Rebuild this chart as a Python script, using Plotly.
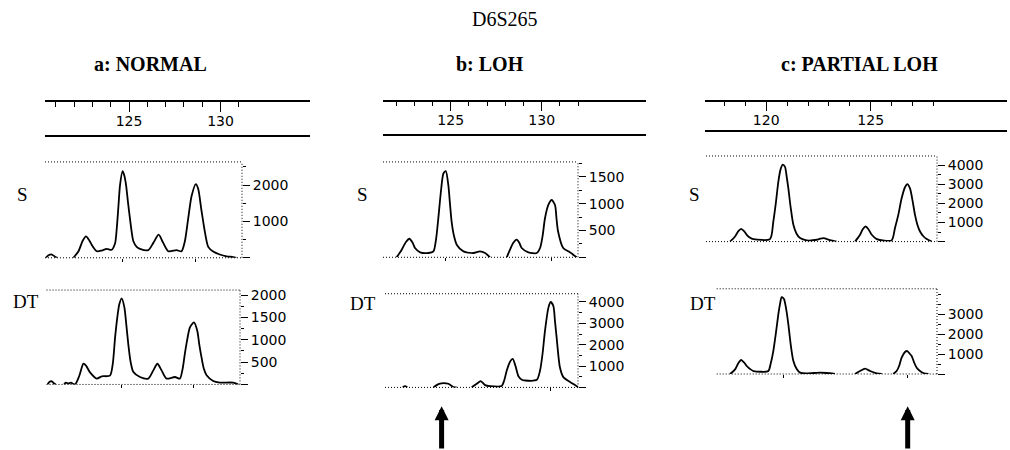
import plotly.graph_objects as go

# ---------------- DATA ----------------
TITLE = "D6S265"
PANEL_TITLES = ["a: NORMAL", "b: LOH", "c: PARTIAL LOH"]
ROW_LABELS = ["S", "DT"]

# size-ruler ticks (bp)
a_ruler_major = [125, 130]
a_ruler_minor = [121, 122, 123, 124, 126, 127, 128, 129, 131]
b_ruler_major = [125, 130]
b_ruler_minor = [122, 123, 124, 126, 127, 128, 129, 131, 132]
c_ruler_major = [120, 125]
c_ruler_minor = [118, 119, 121, 122, 123, 124, 126, 127, 128]

# panel a, S trace (bp, fluorescence)
a_s_bp = [120.45, 120.60, 120.78, 120.96, 121.09, None,
          121.96, 122.24, 122.47, 122.65, 122.84, 122.96, 123.24, 123.51, 123.78, 124.05,
          124.24, 124.33, 124.42, 124.51, 124.65, 124.75, 124.84, 124.95, 125.05, 125.15,
          125.24, 125.42, 125.60, 126.05, 126.33, 126.62, 126.87, 127.15, 127.60, 127.87,
          128.05, 128.24, 128.42, 128.65, 128.78, 128.96, 129.15, 129.33, 129.60, 129.96,
          130.33, 130.69, 130.87]
a_s_val = [0, 70, 90, 30, 0, None,
           0, 180, 470, 590, 470, 360, 180, 200, 245, 220,
           400, 800, 1400, 2000, 2380, 2250, 2000, 1500, 1090, 700,
           455, 300, 245, 210, 410, 637, 410, 180, 210, 180,
           450, 1100, 1700, 2027, 1900, 1300, 700, 300, 170, 90,
           40, 20, 0]

# panel a, DT trace
a_dt_bp = [120.55, 120.66, 120.78, 120.91, 121.00, None,
           121.45, 121.55, 121.69, 121.82, 122.05, 122.29, 122.51, 122.65, 122.87, 123.24,
           123.51, 123.96, 124.11, 124.24, 124.36, 124.47, 124.60, 124.75, 124.85, 124.96,
           125.09, 125.24, 125.60, 126.05, 126.33, 126.55, 126.78, 127.05, 127.51, 127.78,
           127.93, 128.05, 128.18, 128.33, 128.55, 128.73, 128.84, 128.96, 129.09, 129.24,
           129.60, 129.96, 130.69, 130.96]
a_dt_val = [0, 60, 70, 20, 0, None,
            0, 40, 20, 40, 0, 200, 464, 420, 270, 131,
            182, 197, 450, 1055, 1500, 1797, 1930, 1722, 1350, 908,
            500, 277, 167, 131, 315, 464, 315, 131, 167, 131,
            350, 686, 1000, 1278, 1389, 1204, 900, 611, 350, 204,
            78, 43, 40, 0]

# panel b, S trace
b_s_bp = [122.03, 122.31, 122.55, 122.73, 122.91, 123.04, 123.32, 123.77, 124.05, 124.20,
          124.32, 124.47, 124.60, 124.73, 124.87, 124.96, 125.05, 125.18, 125.33, 125.70,
          126.25, 126.61, 126.89, 127.16, None,
          128.08, 128.26, 128.44, 128.63, 128.77, 128.90, 129.27, 129.73, 129.91, 130.05,
          130.18, 130.37, 130.55, 130.73, 130.82, 130.90, 131.18, 131.55, 131.92]
b_s_val = [0, 142, 290, 346, 270, 173, 93, 80, 111, 350,
           728, 1250, 1562, 1605, 1346, 1000, 667, 400, 235, 111,
           80, 111, 80, 0, None,
           0, 142, 270, 328, 270, 173, 93, 80, 173, 400,
           728, 980, 1068, 975, 700, 481, 173, 93, 0]

# panel b, DT trace
b_dt_bp = [122.36, 122.49, 122.62, None,
           124.05, 124.23, 124.41, 124.60, 124.87, 125.15, 125.33, None,
           126.15, 126.43, 126.65, 126.89, 127.16, 127.80, 127.93, 128.08, 128.26, 128.41,
           128.56, 128.73, 128.91, 129.09, 129.73, 129.91, 130.05, 130.18, 130.37, 130.49,
           130.64, 130.73, 130.82, 131.00, 131.19, 131.56, 131.83, 132.01]
b_dt_val = [0, 60, 0, None,
            0, 108, 180, 202, 171, 20, 0, None,
            0, 171, 295, 108, 62, 70, 300, 790, 1200, 1333,
            1000, 510, 360, 325, 357, 790, 1600, 2650, 3736, 4000,
            3813, 3100, 2340, 946, 481, 248, 108, 0]

# panel c, S trace
c_s_bp = [118.27, 118.51, 118.67, 118.80, 118.94, 119.07, 119.23, 119.39, 120.18, 120.34,
          120.47, 120.58, 120.69, 120.79, 120.90, 120.98, 121.06, 121.17, 121.30, 121.46,
          121.62, 121.94, 122.42, 122.58, 122.74, 123.05, 123.37, None,
          124.25, 124.49, 124.62, 124.76, 124.89, 125.05, 125.29, 126.00, 126.16, 126.32,
          126.48, 126.64, 126.75, 126.88, 127.01, 127.12, 127.23, 127.36, 127.52, 127.68,
          127.92]
c_s_val = [0, 271, 550, 671, 550, 358, 200, 132, 132, 1052,
           2100, 3136, 3800, 4037, 3918, 3400, 2789, 1800, 880, 400,
           184, 63, 97, 150, 184, 80, 0, None,
           0, 358, 650, 792, 650, 358, 132, 63, 705, 1400,
           2268, 2850, 3016, 2789, 2100, 1400, 900, 530, 280, 132,
           0]

# panel c, DT trace
c_dt_bp = [118.27, 118.51, 118.67, 118.80, 118.94, 119.07, 119.23, 119.39, 120.10, 120.21,
           120.34, 120.47, 120.58, 120.66, 120.74, 120.82, 120.86, 120.98, 121.06, 121.17,
           121.30, 121.46, 121.62, 121.94, 122.58, 122.89, 123.29, None,
           124.25, 124.49, 124.73, 124.97, 125.29, 125.53, None,
           126.08, 126.24, 126.36, 126.48, 126.64, 126.75, 126.88, 126.96, 127.07, 127.20,
           127.36, 127.52, 127.76]
c_dt_val = [0, 233, 550, 700, 580, 400, 250, 150, 150, 500,
            1150, 2100, 2983, 3500, 3850, 3800, 3733, 3100, 2483, 1500,
            650, 250, 67, 30, 67, 50, 0, None,
            0, 150, 267, 150, 30, 0, None,
            0, 150, 400, 817, 1100, 1150, 1000, 900, 600, 317,
            150, 50, 0]

# y-axis ticks
a_s_ticks = [0, 1000, 2000]
a_dt_ticks = [0, 500, 1000, 1500, 2000]
b_s_ticks = [0, 500, 1000, 1500]
b_dt_ticks = [0, 1000, 2000, 3000, 4000]
c_s_ticks = [0, 1000, 2000, 3000, 4000]
c_dt_ticks = [0, 1000, 2000, 3000]

# called allele markers (bp)
a_s_alleles = [124.65, 128.65]
a_dt_alleles = [124.60, 128.55]
b_s_alleles = [124.73, 130.55]
b_dt_alleles = [130.49]
c_s_alleles = []
c_dt_alleles = [120.82, 126.75]

# lost allele arrows (bp)
b_arrow_bp = 124.5
c_arrow_bp = 126.77

# ---------------- LAYOUT ----------------
W, H = 1010, 450
SERIF = "Liberation Serif, Times New Roman, serif"
SANS = "DejaVu Sans, Arial, sans-serif"
DOT = "1px,2px"


def px_x(px):
    return px / W


def px_y(py):
    return 1 - py / H


panels = [
    dict(title=PANEL_TITLES[0], title_xy=(150, 61), cal=(129.0, 18.3),
         ruler=(45, 310, 99.5, 132.5), ruler_major=a_ruler_major, ruler_minor=a_ruler_minor,
         rows=[
             dict(label_xy=(22.5, 193), box=(45, 242, 160, 256.5), top=2635,
                  bp=a_s_bp, val=a_s_val, ticks=a_s_ticks, minor=500, alleles=a_s_alleles),
             dict(label_xy=(26, 301), box=(46.5, 240, 289, 384), top=2115,
                  bp=a_dt_bp, val=a_dt_val, ticks=a_dt_ticks, minor=250, alleles=a_dt_alleles),
         ], arrow=None),
    dict(title=PANEL_TITLES[1], title_xy=(490, 61), cal=(450.7, 18.2),
         ruler=(383, 646, 99.3, 131.7), ruler_major=b_ruler_major, ruler_minor=b_ruler_minor,
         rows=[
             dict(label_xy=(362, 193), box=(383, 578, 160, 256), top=1778,
                  bp=b_s_bp, val=b_s_val, ticks=b_s_ticks, minor=250, alleles=b_s_alleles),
             dict(label_xy=(362.5, 302.5), box=(385, 578, 292.7, 387), top=4386,
                  bp=b_dt_bp, val=b_dt_val, ticks=b_dt_ticks, minor=500, alleles=b_dt_alleles),
         ], arrow=b_arrow_bp),
    dict(title=PANEL_TITLES[2], title_xy=(859, 61), cal=(870.7, 20.9),
         ruler=(705, 1006.7, 99.3, 128.3), ruler_major=c_ruler_major, ruler_minor=c_ruler_minor,
         rows=[
             dict(label_xy=(694, 193), box=(706, 937, 154, 240.2), top=4490,
                  bp=c_s_bp, val=c_s_val, ticks=c_s_ticks, minor=500, alleles=c_s_alleles),
             dict(label_xy=(702.5, 303), box=(716.7, 937, 287.7, 373.5), top=4265,
                  bp=c_dt_bp, val=c_dt_val, ticks=c_dt_ticks, minor=500, alleles=c_dt_alleles),
         ], arrow=c_arrow_bp),
]

fig = go.Figure()
layout = {}
shapes = []
annotations = [dict(text=TITLE, x=px_x(505), y=px_y(16), xref="paper", yref="paper",
                    xanchor="center", yanchor="middle", showarrow=False,
                    font=dict(family=SERIF, size=20, color="black"))]

n = 0


def ax_names(k):
    s = "" if k == 1 else str(k)
    return "xaxis" + s, "yaxis" + s, "x" + s, "y" + s


for p in panels:
    ref_px, px_per_bp = p["cal"]

    def to_bp(px, ref_px=ref_px, px_per_bp=px_per_bp):
        return 125 + (px - ref_px) / px_per_bp

    annotations.append(dict(text="<b>%s</b>" % p["title"], x=px_x(p["title_xy"][0]),
                            y=px_y(p["title_xy"][1]), xref="paper", yref="paper",
                            xanchor="center", yanchor="middle", showarrow=False,
                            font=dict(family=SERIF, size=20, color="black")))
    # ruler
    n += 1
    xa, ya, xr, yr = ax_names(n)
    x0, x1, y0, y1 = p["ruler"]
    layout[xa] = dict(domain=[px_x(x0), px_x(x1)], anchor=yr, range=[to_bp(x0), to_bp(x1)],
                      side="top", showline=True, mirror=True, linecolor="black", linewidth=1.5,
                      ticks="inside", ticklen=10, tickwidth=1.3, tickcolor="black",
                      tickmode="array", tickvals=p["ruler_major"],
                      ticktext=[str(v) for v in p["ruler_major"]],
                      ticklabelposition="inside", ticklabelstandoff=4,
                      tickfont=dict(family=SANS, size=14, color="black"),
                      minor=dict(tickmode="array", tickvals=p["ruler_minor"], ticks="inside",
                                 ticklen=5, tickwidth=1.3, tickcolor="black", showgrid=False),
                      showgrid=False, zeroline=False, fixedrange=True)
    layout[ya] = dict(domain=[px_y(y1), px_y(y0)], anchor=xr, range=[0, 1], visible=False,
                      fixedrange=True)
    fig.add_trace(go.Scatter(x=[], y=[], xaxis=xr, yaxis=yr, showlegend=False))

    for ri, row in enumerate(p["rows"]):
        n += 1
        xa, ya, xr, yr = ax_names(n)
        bx0, bx1, by0, by1 = row["box"]
        layout[xa] = dict(domain=[px_x(bx0), px_x(bx1)], anchor=yr,
                          range=[to_bp(bx0), to_bp(bx1)], showline=False,
                          ticks="outside", ticklen=3, tickcolor="black", tickwidth=1,
                          tickmode="array", tickvals=row["alleles"], showticklabels=False,
                          showgrid=False, zeroline=False, fixedrange=True)
        layout[ya] = dict(domain=[px_y(by1), px_y(by0)], anchor=xr, side="right",
                          range=[0, row["top"]], showline=False, showgrid=False, zeroline=False,
                          tickmode="array", tickvals=row["ticks"],
                          ticktext=["" if v == 0 else str(v) for v in row["ticks"]],
                          ticks="outside", ticklen=7, tickwidth=1, tickcolor="black",
                          tickfont=dict(family=SANS, size=14, color="black"),
                          minor=dict(tickmode="linear", tick0=0, dtick=row["minor"],
                                     ticks="outside", ticklen=3, tickcolor="black",
                                     tickwidth=1, showgrid=False),
                          fixedrange=True)
        fig.add_trace(go.Scatter(x=row["bp"], y=row["val"], xaxis=xr, yaxis=yr, mode="lines",
                                 line=dict(color="black", width=1.8, shape="spline",
                                           smoothing=0.7),
                                 connectgaps=False, showlegend=False, hoverinfo="skip"))
        dxr, dyr = xr + " domain", yr + " domain"
        for (sx0, sy0, sx1, sy1) in [(0, 1, 1, 1), (1, 0, 1, 1), (0, 0, 1, 0)]:
            shapes.append(dict(type="line", xref=dxr, yref=dyr, x0=sx0, y0=sy0, x1=sx1, y1=sy1,
                               line=dict(color="black", width=1, dash=DOT)))
        annotations.append(dict(text=ROW_LABELS[ri], x=px_x(row["label_xy"][0]),
                                y=px_y(row["label_xy"][1]), xref="paper", yref="paper",
                                xanchor="center", yanchor="middle", showarrow=False,
                                font=dict(family=SERIF, size=19, color="black")))
        if ri == 1 and p["arrow"] is not None:
            annotations.append(dict(text="", x=p["arrow"], xref=xr, y=px_y(406), yref="paper",
                                    showarrow=True, ax=0, ay=44, arrowhead=2, arrowsize=0.56,
                                    arrowwidth=5, arrowcolor="black", standoff=0))

fig.update_layout(width=W, height=H, margin=dict(l=0, r=0, t=0, b=0),
                  paper_bgcolor="white", plot_bgcolor="white", showlegend=False,
                  shapes=shapes, annotations=annotations, **layout)
fig.write_html("out.html", config={"displayModeBar": False},
               post_script="document.body.style.margin='0';document.body.style.padding='0';")
